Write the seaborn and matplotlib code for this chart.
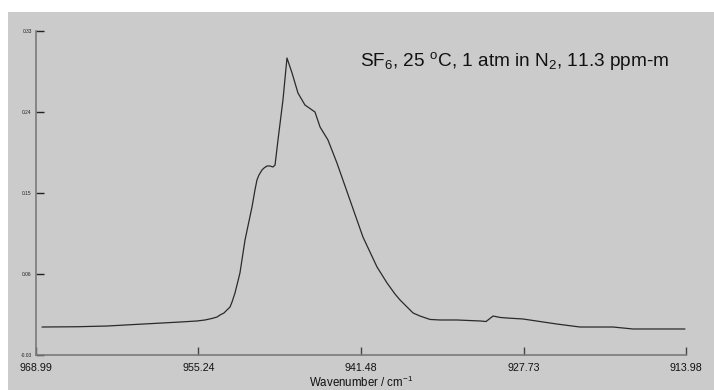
import matplotlib
matplotlib.use("Agg")
import matplotlib.pyplot as plt
from matplotlib.patches import Rectangle
import seaborn as sns
import pandas as pd

wavenumber = [968.48, 965.50, 962.98, 960.50, 958.24, 956.60, 955.36, 954.69, 954.10,
              953.67, 953.42, 953.08, 952.83, 952.57, 952.40, 952.15, 951.98, 951.73,
              951.30, 950.71, 950.46, 950.29, 950.12, 949.86, 949.69, 949.44, 949.19,
              948.93, 948.76, 948.51, 948.09, 947.75, 947.32, 946.82, 946.23, 945.38,
              944.95, 944.28, 943.52, 942.42, 941.32, 940.13, 939.28, 938.61, 938.18,
              937.76, 937.08, 936.49, 935.64, 934.80, 933.36, 931.41, 930.90, 930.31,
              929.70, 929.13, 927.77, 924.90, 922.95, 920.16, 918.47, 914.07]
absorbance = [0.0011, 0.0014, 0.0022, 0.0040, 0.0056, 0.0068, 0.0078, 0.0089, 0.0106,
              0.0122, 0.0144, 0.0167, 0.0200, 0.0233, 0.0289, 0.0389, 0.0478, 0.0611,
              0.0978, 0.1345, 0.1533, 0.1645, 0.1700, 0.1756, 0.1778, 0.1800, 0.1800,
              0.1789, 0.1811, 0.2089, 0.2533, 0.3000, 0.2833, 0.2611, 0.2478, 0.2400,
              0.2233, 0.2089, 0.1833, 0.1422, 0.1011, 0.0678, 0.0500, 0.0378, 0.0311,
              0.0256, 0.0167, 0.0133, 0.0095, 0.0089, 0.0089, 0.0078, 0.0072, 0.0133,
              0.0117, 0.0111, 0.0100, 0.0044, 0.0011, 0.0011, -0.0011, -0.0011]

x_ticks = [968.99, 955.24, 941.48, 927.73, 913.98]
x_tick_labels = ["968.99", "955.24", "941.48", "927.73", "913.98"]
y_ticks = [-0.03, 0.06, 0.15, 0.24, 0.33]
y_tick_labels = ["-0.03", "0.06", "0.15", "0.24", "0.33"]

sns.set_style("white")
plt.rcParams['font.family'] = ['Liberation Sans', 'DejaVu Sans']
plt.rcParams['mathtext.fontset'] = 'custom'
plt.rcParams['mathtext.rm'] = 'Liberation Sans'
plt.rcParams['mathtext.it'] = 'Liberation Sans:italic'

bg = "#cbcbcb"
fig = plt.figure(figsize=(7.14, 3.90), dpi=100, facecolor="white")
fig.patches.append(Rectangle((8/714, 0), 1 - 8/714, 1 - 12/390, transform=fig.transFigure,
                             facecolor=bg, edgecolor="none", zorder=-5))
ax = fig.add_axes([36/714, 1 - 355/390, 650/714, 324/390])
ax.set_zorder(1)
ax.set_facecolor(bg)

df = pd.DataFrame({"wn": wavenumber, "abs": absorbance})
sns.lineplot(data=df, x="wn", y="abs", ax=ax, color="#2a2a2a", linewidth=0.9)

ax.set_xlim(968.99, 913.98)
ax.set_ylim(-0.03, 0.33)
ax.set_xticks(x_ticks)
ax.set_xticklabels(x_tick_labels, fontsize=7.7, color="#111111")
ax.set_yticks(y_ticks)
ax.set_yticklabels(y_tick_labels, fontsize=3.5, color="#222222")
ax.tick_params(axis="x", bottom=True, direction="in", length=6, width=1, color="#444444", pad=6)
ax.tick_params(axis="y", left=True, direction="in", length=6, width=1, color="#222222", pad=3)
ax.set_xlabel("Wavenumber / cm$^{-1}$", fontsize=8.3, color="#111111", labelpad=1)
ax.set_ylabel("")

for s in ["top", "right"]:
    ax.spines[s].set_visible(False)
for s in ["left", "bottom"]:
    ax.spines[s].set_color("#7a7a7a")
    ax.spines[s].set_linewidth(1.2)

fig.text(360/714, 1 - 66/390, "SF$_{6}$, 25 $^{\\mathrm{o}}$C, 1 atm in N$_{2}$, 11.3 ppm-m",
         fontsize=13.7, color="#111111", ha="left", va="baseline", zorder=5)

fig.savefig("out.png", dpi=100, facecolor="white")
